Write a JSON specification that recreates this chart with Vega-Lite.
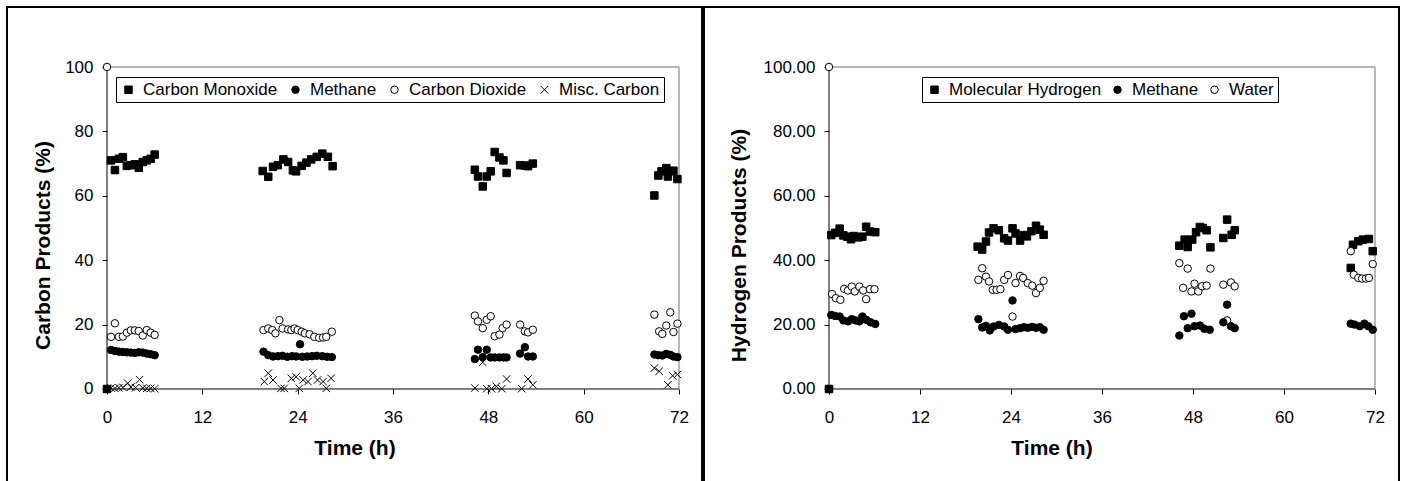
{
  "$schema": "https://vega.github.io/schema/vega-lite/v6.json",
  "background": "white",
  "padding": {"left": 6, "top": 6, "right": 0, "bottom": 0},
  "spacing": 2,
  "bounds": "flush",
  "config": {
    "view": {"stroke": "black", "strokeWidth": 2},
    "font": "Liberation Sans",
    "axis": {"grid": false, "domain": false, "ticks": true, "tickColor": "black", "tickSize": 5, "tickWidth": 1, "labelColor": "black", "labelFont": "Liberation Sans", "labelFontSize": 17, "titleFont": "Liberation Sans", "titleFontSize": 21, "titleFontWeight": "bold", "titleColor": "black"},
    "legend": {"orient": "none", "direction": "horizontal", "title": null, "strokeColor": "black", "strokeWidth": 1, "fillColor": "white", "padding": 4, "labelFont": "Liberation Sans", "labelFontSize": 17, "labelColor": "black", "symbolSize": 56, "symbolStrokeWidth": 1, "labelOffset": 6, "cornerRadius": 0}
  },
  "resolve": {"scale": {"x": "independent", "y": "independent", "shape": "independent", "fill": "independent", "stroke": "independent"}, "legend": {"shape": "independent", "fill": "independent", "stroke": "independent"}},
  "hconcat": [
    {
      "width": 695,
      "height": 476,
      "layer": [
        {"data": {"values": [{}]}, "mark": {"type": "rule", "color": "#b8b8b8", "strokeWidth": 2},
         "encoding": {
           "x": {"datum": 0, "type": "quantitative", "scale": {"domain": [-12.587, 74.895], "nice": false, "zero": false}, "axis": {"orient": "bottom", "offset": -94, "values": [0, 12, 24, 36, 48, 60, 72], "format": "d", "labelPadding": 15, "title": "Time (h)", "titlePadding": 12}},
           "x2": {"datum": 72},
           "y": {"datum": 100, "type": "quantitative", "scale": {"domain": [-29.193, 118.634], "nice": false, "zero": false}, "axis": {"orient": "left", "offset": -100, "values": [0, 20, 40, 60, 80, 100], "format": "d", "labelPadding": 9, "title": "Carbon Products (%)", "titlePadding": 11}}}},
        {"data": {"values": [{}]}, "mark": {"type": "rule", "color": "#b8b8b8", "strokeWidth": 2},
         "encoding": {
           "x": {"datum": 72, "type": "quantitative", "scale": {"domain": [-12.587, 74.895], "nice": false, "zero": false}, "axis": {"orient": "bottom", "offset": -94, "values": [0, 12, 24, 36, 48, 60, 72], "format": "d", "labelPadding": 15, "title": "Time (h)", "titlePadding": 12}},
           "y": {"datum": 0, "type": "quantitative", "scale": {"domain": [-29.193, 118.634], "nice": false, "zero": false}, "axis": {"orient": "left", "offset": -100, "values": [0, 20, 40, 60, 80, 100], "format": "d", "labelPadding": 9, "title": "Carbon Products (%)", "titlePadding": 11}},
           "y2": {"datum": 100}}},
        {"data": {"values": [{}]}, "mark": {"type": "rule", "color": "black", "strokeWidth": 1},
         "encoding": {
           "x": {"datum": 0, "type": "quantitative", "scale": {"domain": [-12.587, 74.895], "nice": false, "zero": false}, "axis": {"orient": "bottom", "offset": -94, "values": [0, 12, 24, 36, 48, 60, 72], "format": "d", "labelPadding": 15, "title": "Time (h)", "titlePadding": 12}},
           "x2": {"datum": 72},
           "y": {"datum": 0, "type": "quantitative", "scale": {"domain": [-29.193, 118.634], "nice": false, "zero": false}, "axis": {"orient": "left", "offset": -100, "values": [0, 20, 40, 60, 80, 100], "format": "d", "labelPadding": 9, "title": "Carbon Products (%)", "titlePadding": 11}}}},
        {"data": {"values": [{}]}, "mark": {"type": "rule", "color": "black", "strokeWidth": 1},
         "encoding": {
           "x": {"datum": 0, "type": "quantitative", "scale": {"domain": [-12.587, 74.895], "nice": false, "zero": false}, "axis": {"orient": "bottom", "offset": -94, "values": [0, 12, 24, 36, 48, 60, 72], "format": "d", "labelPadding": 15, "title": "Time (h)", "titlePadding": 12}},
           "y": {"datum": 0, "type": "quantitative", "scale": {"domain": [-29.193, 118.634], "nice": false, "zero": false}, "axis": {"orient": "left", "offset": -100, "values": [0, 20, 40, 60, 80, 100], "format": "d", "labelPadding": 9, "title": "Carbon Products (%)", "titlePadding": 11}},
           "y2": {"datum": 100}}},
        {
          "data": {"values": [
            {"t": 0, "v": 0, "s": "Misc. Carbon"},
            {"t": 0, "v": 0, "s": "Methane"},
            {"t": 0, "v": 100, "s": "Carbon Dioxide"},
            {"t": 0, "v": 0, "s": "Carbon Monoxide"},
            {"t": 0.5, "v": 71.0, "s": "Carbon Monoxide"}, {"t": 1.0, "v": 68.0, "s": "Carbon Monoxide"}, {"t": 1.5, "v": 71.5, "s": "Carbon Monoxide"}, {"t": 2.0, "v": 72.0, "s": "Carbon Monoxide"}, {"t": 2.5, "v": 69.3, "s": "Carbon Monoxide"}, {"t": 3.0, "v": 69.5, "s": "Carbon Monoxide"}, {"t": 3.5, "v": 69.8, "s": "Carbon Monoxide"}, {"t": 4.0, "v": 68.7, "s": "Carbon Monoxide"}, {"t": 4.5, "v": 70.5, "s": "Carbon Monoxide"}, {"t": 5.0, "v": 71.0, "s": "Carbon Monoxide"}, {"t": 5.5, "v": 71.5, "s": "Carbon Monoxide"}, {"t": 6.0, "v": 72.8, "s": "Carbon Monoxide"},
            {"t": 19.6, "v": 67.7, "s": "Carbon Monoxide"}, {"t": 20.3, "v": 65.9, "s": "Carbon Monoxide"}, {"t": 20.9, "v": 69.0, "s": "Carbon Monoxide"}, {"t": 21.5, "v": 69.5, "s": "Carbon Monoxide"}, {"t": 22.2, "v": 71.3, "s": "Carbon Monoxide"}, {"t": 22.8, "v": 70.5, "s": "Carbon Monoxide"}, {"t": 23.4, "v": 67.9, "s": "Carbon Monoxide"}, {"t": 23.8, "v": 67.6, "s": "Carbon Monoxide"}, {"t": 24.5, "v": 69.3, "s": "Carbon Monoxide"}, {"t": 25.1, "v": 70.3, "s": "Carbon Monoxide"}, {"t": 25.7, "v": 71.3, "s": "Carbon Monoxide"}, {"t": 26.4, "v": 72.1, "s": "Carbon Monoxide"}, {"t": 27.1, "v": 73.1, "s": "Carbon Monoxide"}, {"t": 27.8, "v": 72.1, "s": "Carbon Monoxide"}, {"t": 28.4, "v": 69.2, "s": "Carbon Monoxide"},
            {"t": 46.3, "v": 68.1, "s": "Carbon Monoxide"}, {"t": 46.7, "v": 66.0, "s": "Carbon Monoxide"}, {"t": 47.3, "v": 62.9, "s": "Carbon Monoxide"}, {"t": 47.8, "v": 66.0, "s": "Carbon Monoxide"}, {"t": 48.3, "v": 67.6, "s": "Carbon Monoxide"}, {"t": 48.8, "v": 73.6, "s": "Carbon Monoxide"}, {"t": 49.4, "v": 71.9, "s": "Carbon Monoxide"}, {"t": 49.9, "v": 71.0, "s": "Carbon Monoxide"}, {"t": 50.3, "v": 67.1, "s": "Carbon Monoxide"}, {"t": 52.0, "v": 69.5, "s": "Carbon Monoxide"}, {"t": 52.6, "v": 69.4, "s": "Carbon Monoxide"}, {"t": 53.0, "v": 69.2, "s": "Carbon Monoxide"}, {"t": 53.6, "v": 70.0, "s": "Carbon Monoxide"},
            {"t": 68.9, "v": 60.1, "s": "Carbon Monoxide"}, {"t": 69.4, "v": 66.3, "s": "Carbon Monoxide"}, {"t": 69.8, "v": 67.6, "s": "Carbon Monoxide"}, {"t": 70.4, "v": 68.6, "s": "Carbon Monoxide"}, {"t": 70.6, "v": 66.0, "s": "Carbon Monoxide"}, {"t": 70.9, "v": 67.6, "s": "Carbon Monoxide"}, {"t": 71.3, "v": 67.8, "s": "Carbon Monoxide"}, {"t": 71.8, "v": 65.2, "s": "Carbon Monoxide"},
            {"t": 0.5, "v": 16.2, "s": "Carbon Dioxide"}, {"t": 1.0, "v": 20.4, "s": "Carbon Dioxide"}, {"t": 1.5, "v": 16.2, "s": "Carbon Dioxide"}, {"t": 2.0, "v": 16.3, "s": "Carbon Dioxide"}, {"t": 2.5, "v": 17.5, "s": "Carbon Dioxide"}, {"t": 3.0, "v": 18.2, "s": "Carbon Dioxide"}, {"t": 3.5, "v": 18.2, "s": "Carbon Dioxide"}, {"t": 4.0, "v": 18.0, "s": "Carbon Dioxide"}, {"t": 4.5, "v": 16.6, "s": "Carbon Dioxide"}, {"t": 5.0, "v": 18.3, "s": "Carbon Dioxide"}, {"t": 5.5, "v": 17.5, "s": "Carbon Dioxide"}, {"t": 6.0, "v": 16.8, "s": "Carbon Dioxide"},
            {"t": 19.7, "v": 18.3, "s": "Carbon Dioxide"}, {"t": 20.3, "v": 18.8, "s": "Carbon Dioxide"}, {"t": 20.8, "v": 18.3, "s": "Carbon Dioxide"}, {"t": 21.2, "v": 17.3, "s": "Carbon Dioxide"}, {"t": 21.7, "v": 21.4, "s": "Carbon Dioxide"}, {"t": 22.1, "v": 18.8, "s": "Carbon Dioxide"}, {"t": 22.8, "v": 18.5, "s": "Carbon Dioxide"}, {"t": 23.2, "v": 18.3, "s": "Carbon Dioxide"}, {"t": 23.6, "v": 18.8, "s": "Carbon Dioxide"}, {"t": 24.0, "v": 18.3, "s": "Carbon Dioxide"}, {"t": 24.5, "v": 17.8, "s": "Carbon Dioxide"}, {"t": 24.9, "v": 17.3, "s": "Carbon Dioxide"}, {"t": 25.5, "v": 17.0, "s": "Carbon Dioxide"}, {"t": 26.1, "v": 16.2, "s": "Carbon Dioxide"}, {"t": 26.7, "v": 15.9, "s": "Carbon Dioxide"}, {"t": 27.2, "v": 16.0, "s": "Carbon Dioxide"}, {"t": 27.6, "v": 16.2, "s": "Carbon Dioxide"}, {"t": 28.3, "v": 17.8, "s": "Carbon Dioxide"},
            {"t": 46.3, "v": 22.8, "s": "Carbon Dioxide"}, {"t": 46.7, "v": 21.0, "s": "Carbon Dioxide"}, {"t": 47.3, "v": 18.9, "s": "Carbon Dioxide"}, {"t": 47.8, "v": 21.5, "s": "Carbon Dioxide"}, {"t": 48.3, "v": 22.6, "s": "Carbon Dioxide"}, {"t": 48.8, "v": 16.4, "s": "Carbon Dioxide"}, {"t": 49.4, "v": 16.9, "s": "Carbon Dioxide"}, {"t": 49.8, "v": 18.9, "s": "Carbon Dioxide"}, {"t": 50.3, "v": 20.0, "s": "Carbon Dioxide"}, {"t": 52.0, "v": 20.0, "s": "Carbon Dioxide"}, {"t": 52.6, "v": 17.9, "s": "Carbon Dioxide"}, {"t": 53.0, "v": 17.6, "s": "Carbon Dioxide"}, {"t": 53.6, "v": 18.4, "s": "Carbon Dioxide"},
            {"t": 68.9, "v": 23.1, "s": "Carbon Dioxide"}, {"t": 69.5, "v": 17.9, "s": "Carbon Dioxide"}, {"t": 69.9, "v": 17.1, "s": "Carbon Dioxide"}, {"t": 70.4, "v": 19.7, "s": "Carbon Dioxide"}, {"t": 70.9, "v": 23.8, "s": "Carbon Dioxide"}, {"t": 71.3, "v": 17.7, "s": "Carbon Dioxide"}, {"t": 71.8, "v": 20.3, "s": "Carbon Dioxide"},
            {"t": 0.5, "v": 12.1, "s": "Methane"}, {"t": 1.0, "v": 11.8, "s": "Methane"}, {"t": 1.5, "v": 11.6, "s": "Methane"}, {"t": 2.0, "v": 11.5, "s": "Methane"}, {"t": 2.5, "v": 11.4, "s": "Methane"}, {"t": 3.0, "v": 11.3, "s": "Methane"}, {"t": 3.5, "v": 11.2, "s": "Methane"}, {"t": 4.0, "v": 11.4, "s": "Methane"}, {"t": 4.5, "v": 11.3, "s": "Methane"}, {"t": 5.0, "v": 11.0, "s": "Methane"}, {"t": 5.5, "v": 10.8, "s": "Methane"}, {"t": 6.0, "v": 10.5, "s": "Methane"},
            {"t": 19.7, "v": 11.6, "s": "Methane"}, {"t": 20.3, "v": 10.5, "s": "Methane"}, {"t": 20.9, "v": 10.1, "s": "Methane"}, {"t": 21.5, "v": 10.2, "s": "Methane"}, {"t": 22.1, "v": 10.3, "s": "Methane"}, {"t": 22.7, "v": 10.0, "s": "Methane"}, {"t": 23.3, "v": 10.2, "s": "Methane"}, {"t": 23.8, "v": 10.1, "s": "Methane"}, {"t": 24.3, "v": 13.9, "s": "Methane"}, {"t": 24.6, "v": 10.0, "s": "Methane"}, {"t": 25.2, "v": 10.1, "s": "Methane"}, {"t": 25.8, "v": 10.2, "s": "Methane"}, {"t": 26.4, "v": 10.3, "s": "Methane"}, {"t": 27.1, "v": 10.2, "s": "Methane"}, {"t": 27.7, "v": 10.0, "s": "Methane"}, {"t": 28.3, "v": 9.9, "s": "Methane"},
            {"t": 46.3, "v": 9.3, "s": "Methane"}, {"t": 46.7, "v": 12.2, "s": "Methane"}, {"t": 47.3, "v": 9.9, "s": "Methane"}, {"t": 47.8, "v": 12.2, "s": "Methane"}, {"t": 48.3, "v": 9.8, "s": "Methane"}, {"t": 48.8, "v": 9.8, "s": "Methane"}, {"t": 49.4, "v": 9.8, "s": "Methane"}, {"t": 49.9, "v": 9.8, "s": "Methane"}, {"t": 50.3, "v": 9.8, "s": "Methane"}, {"t": 52.0, "v": 11.0, "s": "Methane"}, {"t": 52.6, "v": 13.0, "s": "Methane"}, {"t": 53.0, "v": 10.1, "s": "Methane"}, {"t": 53.6, "v": 10.1, "s": "Methane"},
            {"t": 68.9, "v": 10.7, "s": "Methane"}, {"t": 69.4, "v": 10.5, "s": "Methane"}, {"t": 69.9, "v": 10.4, "s": "Methane"}, {"t": 70.4, "v": 10.9, "s": "Methane"}, {"t": 70.9, "v": 10.6, "s": "Methane"}, {"t": 71.3, "v": 10.1, "s": "Methane"}, {"t": 71.8, "v": 9.9, "s": "Methane"},
            {"t": 0.5, "v": 0.3, "s": "Misc. Carbon"}, {"t": 1.0, "v": 0.2, "s": "Misc. Carbon"}, {"t": 1.5, "v": 0.4, "s": "Misc. Carbon"}, {"t": 2.0, "v": 0.5, "s": "Misc. Carbon"}, {"t": 2.6, "v": 1.8, "s": "Misc. Carbon"}, {"t": 3.0, "v": 0.6, "s": "Misc. Carbon"}, {"t": 4.1, "v": 2.9, "s": "Misc. Carbon"}, {"t": 3.6, "v": 0.4, "s": "Misc. Carbon"}, {"t": 4.5, "v": 0.3, "s": "Misc. Carbon"}, {"t": 5.0, "v": 0.2, "s": "Misc. Carbon"}, {"t": 5.5, "v": 0.2, "s": "Misc. Carbon"}, {"t": 6.0, "v": 0.1, "s": "Misc. Carbon"},
            {"t": 19.8, "v": 2.3, "s": "Misc. Carbon"}, {"t": 20.3, "v": 4.9, "s": "Misc. Carbon"}, {"t": 20.9, "v": 2.8, "s": "Misc. Carbon"}, {"t": 21.9, "v": 0.2, "s": "Misc. Carbon"}, {"t": 22.3, "v": 0.2, "s": "Misc. Carbon"}, {"t": 23.2, "v": 3.3, "s": "Misc. Carbon"}, {"t": 23.8, "v": 3.8, "s": "Misc. Carbon"}, {"t": 24.2, "v": 0.2, "s": "Misc. Carbon"}, {"t": 24.7, "v": 2.8, "s": "Misc. Carbon"}, {"t": 25.3, "v": 2.3, "s": "Misc. Carbon"}, {"t": 25.9, "v": 4.9, "s": "Misc. Carbon"}, {"t": 26.5, "v": 2.8, "s": "Misc. Carbon"}, {"t": 27.2, "v": 2.3, "s": "Misc. Carbon"}, {"t": 27.6, "v": 0.2, "s": "Misc. Carbon"}, {"t": 28.2, "v": 3.3, "s": "Misc. Carbon"},
            {"t": 46.3, "v": 0.3, "s": "Misc. Carbon"}, {"t": 47.3, "v": 8.3, "s": "Misc. Carbon"}, {"t": 47.8, "v": 0.1, "s": "Misc. Carbon"}, {"t": 48.4, "v": 0.1, "s": "Misc. Carbon"}, {"t": 49.0, "v": 0.8, "s": "Misc. Carbon"}, {"t": 49.7, "v": 0.1, "s": "Misc. Carbon"}, {"t": 50.3, "v": 3.1, "s": "Misc. Carbon"}, {"t": 52.2, "v": 0.1, "s": "Misc. Carbon"}, {"t": 53.0, "v": 3.1, "s": "Misc. Carbon"}, {"t": 53.6, "v": 1.3, "s": "Misc. Carbon"},
            {"t": 68.9, "v": 6.5, "s": "Misc. Carbon"}, {"t": 69.5, "v": 5.5, "s": "Misc. Carbon"}, {"t": 70.6, "v": 1.3, "s": "Misc. Carbon"}, {"t": 71.2, "v": 4.1, "s": "Misc. Carbon"}, {"t": 71.8, "v": 4.5, "s": "Misc. Carbon"}
          ]},
          "mark": {"type": "point", "opacity": 1, "strokeWidth": 1, "size": 56},
          "encoding": {
            "x": {"field": "t", "type": "quantitative", "scale": {"domain": [-12.587, 74.895], "nice": false, "zero": false},
                  "axis": {"orient": "bottom", "offset": -94, "values": [0, 12, 24, 36, 48, 60, 72], "format": "d", "labelPadding": 15, "title": "Time (h)", "titlePadding": 12}},
            "y": {"field": "v", "type": "quantitative", "scale": {"domain": [-29.193, 118.634], "nice": false, "zero": false},
                  "axis": {"orient": "left", "offset": -100, "values": [0, 20, 40, 60, 80, 100], "format": "d", "labelPadding": 9, "title": "Carbon Products (%)", "titlePadding": 11}},
            "shape": {"field": "s", "type": "nominal",
                      "scale": {"domain": ["Carbon Monoxide", "Methane", "Carbon Dioxide", "Misc. Carbon"], "range": ["square", "circle", "circle", "M-1,-1L1,1M1,-1L-1,1"]},
                      "legend": {"legendX": 109, "legendY": 70, "columns": 4, "columnPadding": 9}},
            "fill": {"field": "s", "type": "nominal",
                     "scale": {"domain": ["Carbon Monoxide", "Methane", "Carbon Dioxide", "Misc. Carbon"], "range": ["black", "black", "white", "black"]},
                     "legend": {"legendX": 109, "legendY": 70, "columns": 4, "columnPadding": 9}},
            "stroke": {"field": "s", "type": "nominal",
                     "scale": {"domain": ["Carbon Monoxide", "Methane", "Carbon Dioxide", "Misc. Carbon"], "range": ["black", "black", "black", "black"]},
                     "legend": {"legendX": 109, "legendY": 70, "columns": 4, "columnPadding": 9}}
          }
        }
      ]
    },
    {
      "width": 695,
      "height": 476,
      "layer": [
        {"data": {"values": [{}]}, "mark": {"type": "rule", "color": "#b8b8b8", "strokeWidth": 2},
         "encoding": {
           "x": {"datum": 0, "type": "quantitative", "scale": {"domain": [-16.484, 75.165], "nice": false, "zero": false}, "axis": {"orient": "bottom", "offset": -94, "values": [0, 12, 24, 36, 48, 60, 72], "format": "d", "labelPadding": 15, "title": "Time (h)", "titlePadding": 12}},
           "x2": {"datum": 72},
           "y": {"datum": 100, "type": "quantitative", "scale": {"domain": [-29.193, 118.634], "nice": false, "zero": false}, "axis": {"orient": "left", "offset": -125, "values": [0, 20, 40, 60, 80, 100], "format": ".2f", "labelPadding": 9, "title": "Hydrogen Products (%)", "titlePadding": 14}}}},
        {"data": {"values": [{}]}, "mark": {"type": "rule", "color": "#b8b8b8", "strokeWidth": 2},
         "encoding": {
           "x": {"datum": 72, "type": "quantitative", "scale": {"domain": [-16.484, 75.165], "nice": false, "zero": false}, "axis": {"orient": "bottom", "offset": -94, "values": [0, 12, 24, 36, 48, 60, 72], "format": "d", "labelPadding": 15, "title": "Time (h)", "titlePadding": 12}},
           "y": {"datum": 0, "type": "quantitative", "scale": {"domain": [-29.193, 118.634], "nice": false, "zero": false}, "axis": {"orient": "left", "offset": -125, "values": [0, 20, 40, 60, 80, 100], "format": ".2f", "labelPadding": 9, "title": "Hydrogen Products (%)", "titlePadding": 14}},
           "y2": {"datum": 100}}},
        {"data": {"values": [{}]}, "mark": {"type": "rule", "color": "black", "strokeWidth": 1},
         "encoding": {
           "x": {"datum": 0, "type": "quantitative", "scale": {"domain": [-16.484, 75.165], "nice": false, "zero": false}, "axis": {"orient": "bottom", "offset": -94, "values": [0, 12, 24, 36, 48, 60, 72], "format": "d", "labelPadding": 15, "title": "Time (h)", "titlePadding": 12}},
           "x2": {"datum": 72},
           "y": {"datum": 0, "type": "quantitative", "scale": {"domain": [-29.193, 118.634], "nice": false, "zero": false}, "axis": {"orient": "left", "offset": -125, "values": [0, 20, 40, 60, 80, 100], "format": ".2f", "labelPadding": 9, "title": "Hydrogen Products (%)", "titlePadding": 14}}}},
        {"data": {"values": [{}]}, "mark": {"type": "rule", "color": "black", "strokeWidth": 1},
         "encoding": {
           "x": {"datum": 0, "type": "quantitative", "scale": {"domain": [-16.484, 75.165], "nice": false, "zero": false}, "axis": {"orient": "bottom", "offset": -94, "values": [0, 12, 24, 36, 48, 60, 72], "format": "d", "labelPadding": 15, "title": "Time (h)", "titlePadding": 12}},
           "y": {"datum": 0, "type": "quantitative", "scale": {"domain": [-29.193, 118.634], "nice": false, "zero": false}, "axis": {"orient": "left", "offset": -125, "values": [0, 20, 40, 60, 80, 100], "format": ".2f", "labelPadding": 9, "title": "Hydrogen Products (%)", "titlePadding": 14}},
           "y2": {"datum": 100}}},
        {
          "data": {"values": [
            {"t": 0, "v": 0, "s": "Methane"},
            {"t": 0, "v": 100, "s": "Water"},
            {"t": 0, "v": 0, "s": "Molecular Hydrogen"},
            {"t": 0.3, "v": 47.8, "s": "Molecular Hydrogen"}, {"t": 0.8, "v": 48.5, "s": "Molecular Hydrogen"}, {"t": 1.4, "v": 49.8, "s": "Molecular Hydrogen"}, {"t": 1.9, "v": 47.7, "s": "Molecular Hydrogen"}, {"t": 2.4, "v": 47.3, "s": "Molecular Hydrogen"}, {"t": 2.9, "v": 46.5, "s": "Molecular Hydrogen"}, {"t": 3.3, "v": 47.5, "s": "Molecular Hydrogen"}, {"t": 3.9, "v": 47.1, "s": "Molecular Hydrogen"}, {"t": 4.4, "v": 47.3, "s": "Molecular Hydrogen"}, {"t": 4.9, "v": 50.4, "s": "Molecular Hydrogen"}, {"t": 5.4, "v": 48.9, "s": "Molecular Hydrogen"}, {"t": 6.1, "v": 48.7, "s": "Molecular Hydrogen"},
            {"t": 19.6, "v": 44.2, "s": "Molecular Hydrogen"}, {"t": 20.2, "v": 43.3, "s": "Molecular Hydrogen"}, {"t": 20.7, "v": 45.8, "s": "Molecular Hydrogen"}, {"t": 21.1, "v": 48.6, "s": "Molecular Hydrogen"}, {"t": 21.7, "v": 49.9, "s": "Molecular Hydrogen"}, {"t": 22.4, "v": 49.3, "s": "Molecular Hydrogen"}, {"t": 23.1, "v": 46.8, "s": "Molecular Hydrogen"}, {"t": 23.6, "v": 46.1, "s": "Molecular Hydrogen"}, {"t": 24.2, "v": 49.9, "s": "Molecular Hydrogen"}, {"t": 24.6, "v": 48.3, "s": "Molecular Hydrogen"}, {"t": 25.2, "v": 46.1, "s": "Molecular Hydrogen"}, {"t": 25.7, "v": 47.8, "s": "Molecular Hydrogen"}, {"t": 26.1, "v": 47.4, "s": "Molecular Hydrogen"}, {"t": 26.7, "v": 49.0, "s": "Molecular Hydrogen"}, {"t": 27.3, "v": 50.7, "s": "Molecular Hydrogen"}, {"t": 27.8, "v": 49.5, "s": "Molecular Hydrogen"}, {"t": 28.3, "v": 47.9, "s": "Molecular Hydrogen"},
            {"t": 46.2, "v": 44.5, "s": "Molecular Hydrogen"}, {"t": 46.9, "v": 46.4, "s": "Molecular Hydrogen"}, {"t": 47.3, "v": 44.1, "s": "Molecular Hydrogen"}, {"t": 47.9, "v": 46.4, "s": "Molecular Hydrogen"}, {"t": 48.4, "v": 48.7, "s": "Molecular Hydrogen"}, {"t": 48.9, "v": 50.3, "s": "Molecular Hydrogen"}, {"t": 49.3, "v": 50.0, "s": "Molecular Hydrogen"}, {"t": 49.8, "v": 49.3, "s": "Molecular Hydrogen"}, {"t": 50.3, "v": 44.0, "s": "Molecular Hydrogen"}, {"t": 52.0, "v": 46.9, "s": "Molecular Hydrogen"}, {"t": 52.5, "v": 52.6, "s": "Molecular Hydrogen"}, {"t": 53.1, "v": 47.9, "s": "Molecular Hydrogen"}, {"t": 53.5, "v": 49.3, "s": "Molecular Hydrogen"},
            {"t": 68.8, "v": 37.6, "s": "Molecular Hydrogen"}, {"t": 69.1, "v": 44.8, "s": "Molecular Hydrogen"}, {"t": 69.8, "v": 45.9, "s": "Molecular Hydrogen"}, {"t": 70.4, "v": 46.4, "s": "Molecular Hydrogen"}, {"t": 71.2, "v": 46.6, "s": "Molecular Hydrogen"}, {"t": 71.7, "v": 42.8, "s": "Molecular Hydrogen"},
            {"t": 0.4, "v": 29.5, "s": "Water"}, {"t": 0.9, "v": 28.2, "s": "Water"}, {"t": 1.5, "v": 27.7, "s": "Water"}, {"t": 2.0, "v": 31.1, "s": "Water"}, {"t": 2.5, "v": 30.6, "s": "Water"}, {"t": 3.0, "v": 31.8, "s": "Water"}, {"t": 3.4, "v": 30.3, "s": "Water"}, {"t": 4.0, "v": 31.8, "s": "Water"}, {"t": 4.5, "v": 30.6, "s": "Water"}, {"t": 4.9, "v": 27.9, "s": "Water"}, {"t": 5.4, "v": 31.0, "s": "Water"}, {"t": 6.0, "v": 31.0, "s": "Water"},
            {"t": 19.7, "v": 33.9, "s": "Water"}, {"t": 20.2, "v": 37.5, "s": "Water"}, {"t": 20.7, "v": 34.9, "s": "Water"}, {"t": 21.1, "v": 33.4, "s": "Water"}, {"t": 21.6, "v": 30.8, "s": "Water"}, {"t": 22.1, "v": 30.8, "s": "Water"}, {"t": 22.6, "v": 31.0, "s": "Water"}, {"t": 23.1, "v": 33.9, "s": "Water"}, {"t": 23.6, "v": 35.4, "s": "Water"}, {"t": 24.2, "v": 22.5, "s": "Water"}, {"t": 24.6, "v": 32.9, "s": "Water"}, {"t": 25.2, "v": 35.1, "s": "Water"}, {"t": 25.6, "v": 34.5, "s": "Water"}, {"t": 26.2, "v": 32.9, "s": "Water"}, {"t": 26.8, "v": 32.1, "s": "Water"}, {"t": 27.3, "v": 29.8, "s": "Water"}, {"t": 27.8, "v": 31.4, "s": "Water"}, {"t": 28.3, "v": 33.6, "s": "Water"},
            {"t": 46.2, "v": 39.1, "s": "Water"}, {"t": 46.7, "v": 31.4, "s": "Water"}, {"t": 47.3, "v": 37.4, "s": "Water"}, {"t": 47.8, "v": 30.3, "s": "Water"}, {"t": 48.2, "v": 32.7, "s": "Water"}, {"t": 48.7, "v": 30.3, "s": "Water"}, {"t": 49.2, "v": 31.9, "s": "Water"}, {"t": 49.8, "v": 32.1, "s": "Water"}, {"t": 50.3, "v": 37.4, "s": "Water"}, {"t": 52.0, "v": 32.4, "s": "Water"}, {"t": 52.5, "v": 21.3, "s": "Water"}, {"t": 53.0, "v": 33.1, "s": "Water"}, {"t": 53.5, "v": 31.9, "s": "Water"},
            {"t": 68.8, "v": 42.8, "s": "Water"}, {"t": 69.2, "v": 35.5, "s": "Water"}, {"t": 69.8, "v": 34.5, "s": "Water"}, {"t": 70.3, "v": 34.3, "s": "Water"}, {"t": 70.8, "v": 34.3, "s": "Water"}, {"t": 71.2, "v": 34.5, "s": "Water"}, {"t": 71.7, "v": 38.8, "s": "Water"},
            {"t": 0.3, "v": 23.0, "s": "Methane"}, {"t": 0.8, "v": 22.7, "s": "Methane"}, {"t": 1.4, "v": 22.5, "s": "Methane"}, {"t": 1.9, "v": 21.3, "s": "Methane"}, {"t": 2.5, "v": 21.0, "s": "Methane"}, {"t": 3.0, "v": 21.7, "s": "Methane"}, {"t": 3.5, "v": 21.3, "s": "Methane"}, {"t": 4.0, "v": 21.0, "s": "Methane"}, {"t": 4.4, "v": 22.5, "s": "Methane"}, {"t": 4.9, "v": 21.5, "s": "Methane"}, {"t": 5.5, "v": 20.7, "s": "Methane"}, {"t": 6.1, "v": 20.2, "s": "Methane"},
            {"t": 19.7, "v": 21.7, "s": "Methane"}, {"t": 20.2, "v": 19.1, "s": "Methane"}, {"t": 20.7, "v": 19.6, "s": "Methane"}, {"t": 21.2, "v": 18.2, "s": "Methane"}, {"t": 21.7, "v": 19.4, "s": "Methane"}, {"t": 22.4, "v": 19.9, "s": "Methane"}, {"t": 23.1, "v": 19.4, "s": "Methane"}, {"t": 23.6, "v": 18.4, "s": "Methane"}, {"t": 24.2, "v": 27.5, "s": "Methane"}, {"t": 24.6, "v": 18.6, "s": "Methane"}, {"t": 25.2, "v": 18.9, "s": "Methane"}, {"t": 25.7, "v": 19.2, "s": "Methane"}, {"t": 26.2, "v": 19.0, "s": "Methane"}, {"t": 26.8, "v": 19.3, "s": "Methane"}, {"t": 27.3, "v": 19.0, "s": "Methane"}, {"t": 27.8, "v": 19.2, "s": "Methane"}, {"t": 28.3, "v": 18.4, "s": "Methane"},
            {"t": 46.2, "v": 16.6, "s": "Methane"}, {"t": 46.8, "v": 22.6, "s": "Methane"}, {"t": 47.3, "v": 18.9, "s": "Methane"}, {"t": 47.8, "v": 23.4, "s": "Methane"}, {"t": 48.2, "v": 19.5, "s": "Methane"}, {"t": 48.9, "v": 19.7, "s": "Methane"}, {"t": 49.5, "v": 18.7, "s": "Methane"}, {"t": 50.2, "v": 18.4, "s": "Methane"}, {"t": 52.0, "v": 20.7, "s": "Methane"}, {"t": 52.5, "v": 26.2, "s": "Methane"}, {"t": 53.0, "v": 19.5, "s": "Methane"}, {"t": 53.5, "v": 18.9, "s": "Methane"},
            {"t": 68.8, "v": 20.3, "s": "Methane"}, {"t": 69.3, "v": 20.0, "s": "Methane"}, {"t": 70.0, "v": 19.5, "s": "Methane"}, {"t": 70.6, "v": 20.3, "s": "Methane"}, {"t": 71.1, "v": 19.5, "s": "Methane"}, {"t": 71.7, "v": 18.4, "s": "Methane"}
          ]},
          "mark": {"type": "point", "opacity": 1, "strokeWidth": 1, "size": 56},
          "encoding": {
            "x": {"field": "t", "type": "quantitative", "scale": {"domain": [-16.484, 75.165], "nice": false, "zero": false},
                  "axis": {"orient": "bottom", "offset": -94, "values": [0, 12, 24, 36, 48, 60, 72], "format": "d", "labelPadding": 15, "title": "Time (h)", "titlePadding": 12}},
            "y": {"field": "v", "type": "quantitative", "scale": {"domain": [-29.193, 118.634], "nice": false, "zero": false},
                  "axis": {"orient": "left", "offset": -125, "values": [0, 20, 40, 60, 80, 100], "format": ".2f", "labelPadding": 9, "title": "Hydrogen Products (%)", "titlePadding": 14}},
            "shape": {"field": "s", "type": "nominal",
                      "scale": {"domain": ["Molecular Hydrogen", "Methane", "Water"], "range": ["square", "circle", "circle"]},
                      "legend": {"legendX": 218, "legendY": 70, "columns": 3, "columnPadding": 7}},
            "fill": {"field": "s", "type": "nominal",
                     "scale": {"domain": ["Molecular Hydrogen", "Methane", "Water"], "range": ["black", "black", "white"]},
                     "legend": {"legendX": 218, "legendY": 70, "columns": 3, "columnPadding": 7}},
            "stroke": {"field": "s", "type": "nominal",
                     "scale": {"domain": ["Molecular Hydrogen", "Methane", "Water"], "range": ["black", "black", "black"]},
                     "legend": {"legendX": 218, "legendY": 70, "columns": 3, "columnPadding": 7}}
          }
        }
      ]
    }
  ]
}
